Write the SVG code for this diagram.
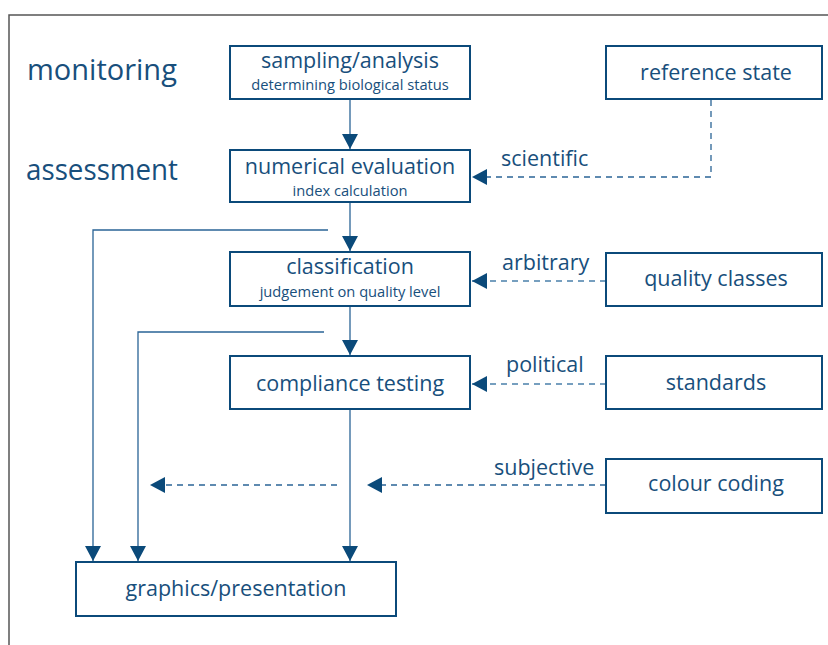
<svg xmlns="http://www.w3.org/2000/svg" width="828" height="645" viewBox="0 0 828 645">
<style>
.box{fill:#fff;stroke:#0b4a7a;stroke-width:2}
.t{font-family:"Open Sans","Noto Sans",sans-serif;fill:#184f7c;text-anchor:middle}
.big{font-size:21.5px}
.small{font-size:14.7px}
.side{font-family:"Open Sans","Noto Sans",sans-serif;fill:#184f7c;font-size:29px}
.lab{font-family:"Open Sans","Noto Sans",sans-serif;fill:#184f7c;font-size:21.5px}
.solid{fill:none;stroke:#2a6496;stroke-width:1.3}
.dash{fill:none;stroke:#2a6496;stroke-width:1.3;stroke-dasharray:6 5}
.dashl{fill:none;stroke:#4a80aa;stroke-width:1.3;stroke-dasharray:6 5}
</style>
<defs>
<marker id="ah" viewBox="0 0 15 16" markerWidth="15" markerHeight="16" refX="15" refY="8" orient="auto" markerUnits="userSpaceOnUse">
<path d="M0,0 L15,8 L0,16 z" fill="#0b4a7a"/>
</marker>
</defs>
<rect width="828" height="645" fill="#fff"/>
<path d="M9,645 V15 H828" fill="none" stroke="#555" stroke-width="1.5"/>
<text class="side" x="27" y="80">monitoring</text>
<text class="side" x="26" y="180" textLength="152" lengthAdjust="spacingAndGlyphs">assessment</text>
<g id="connectors">
<path class="solid" d="M350,100 V149" marker-end="url(#ah)"/>
<path class="solid" d="M350,203 V251" marker-end="url(#ah)"/>
<path class="solid" d="M328,230 H93 V561" marker-end="url(#ah)"/>
<path class="solid" d="M324,332 H138 V561" marker-end="url(#ah)"/>
<path class="solid" d="M350,307 V355" marker-end="url(#ah)"/>
<path class="solid" d="M350,410 V561" marker-end="url(#ah)"/>
<path class="dash" d="M337,485 H150" marker-end="url(#ah)"/>
<path class="dash" d="M606,485 H367" marker-end="url(#ah)"/>
<path class="dash" d="M711,100 V177 H472" marker-end="url(#ah)"/>
<path class="dashl" d="M606,281 H472" marker-end="url(#ah)"/>
<path class="dashl" d="M606,384 H472" marker-end="url(#ah)"/>
<text class="lab" x="501" y="166">scientific</text>
<text class="lab" x="502" y="270">arbitrary</text>
<text class="lab" x="506" y="372">political</text>
<text class="lab" x="494" y="475">subjective</text>
</g>
<g id="sampling">
<rect class="box" x="230" y="46" width="240" height="53"/>
<text class="t big" x="350" y="68">sampling/analysis</text>
<text class="t small" x="350" y="90">determining biological status</text>
</g>
<g id="numerical">
<rect class="box" x="230" y="150" width="240" height="52"/>
<text class="t big" x="350" y="173.5">numerical evaluation</text>
<text class="t small" x="350" y="196">index calculation</text>
</g>
<g id="classification">
<rect class="box" x="230" y="252" width="240" height="54"/>
<text class="t big" x="350" y="274">classification</text>
<text class="t small" x="350" y="297">judgement on quality level</text>
</g>
<g id="compliance">
<rect class="box" x="230" y="356" width="240" height="53"/>
<text class="t big" x="350" y="391">compliance testing</text>
</g>
<g id="reference">
<rect class="box" x="606" y="46" width="216" height="53"/>
<text class="t big" x="716" y="80">reference state</text>
</g>
<g id="quality">
<rect class="box" x="606" y="253" width="216" height="53"/>
<text class="t big" x="716" y="286">quality classes</text>
</g>
<g id="standards">
<rect class="box" x="606" y="356" width="216" height="53"/>
<text class="t big" x="716" y="390">standards</text>
</g>
<g id="colour">
<rect class="box" x="606" y="459" width="216" height="54"/>
<text class="t big" x="716" y="491">colour coding</text>
</g>
<g id="graphics">
<rect class="box" x="76" y="562" width="320" height="54"/>
<text class="t big" x="236" y="596">graphics/presentation</text>
</g>
</svg>
